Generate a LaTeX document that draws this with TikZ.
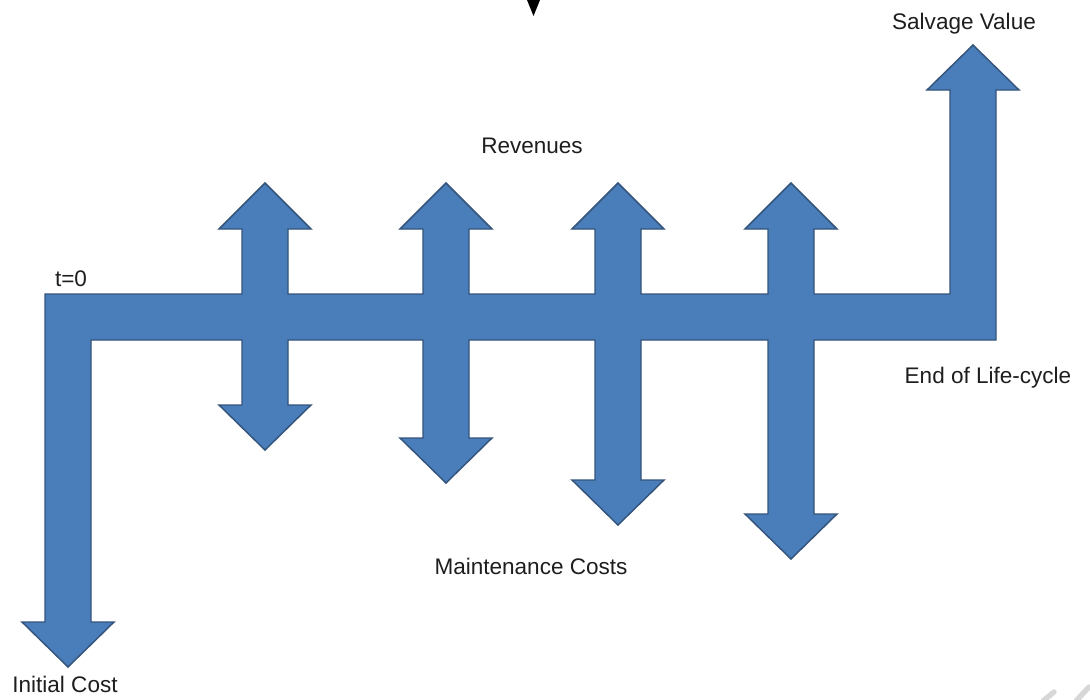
\documentclass[tikz,border=0pt]{standalone}
\usepackage{fontspec}
\setmainfont{Liberation Sans}
\begin{document}
\begin{tikzpicture}[x=0.75pt,y=-0.75pt,
  flowshape/.style={fill={rgb,255:red,74;green,126;blue,187},
    draw={rgb,255:red,52;green,84;blue,124},line width=1.1pt,line join=miter},
  lbl/.style={anchor=base,inner sep=0pt,text={rgb,255:red,30;green,30;blue,30},
    font=\fontsize{16.9}{20}\selectfont},
  faintstroke/.style={draw={rgb,255:red,215;green,215;blue,215},line width=4pt,line cap=round}]
% canvas
\fill[white] (0,0) rectangle (1090,700);
\useasboundingbox (0,0) rectangle (1090,700);

% cash-flow timeline: one outline for the bar and all arrows
\draw[flowshape] (45,294)
  \foreach \c in {265,446,618,791} {
    -- ({\c-23},294) -- ({\c-23},229) -- ({\c-46},229) -- (\c,183)
    -- ({\c+46},229) -- ({\c+23},229) -- ({\c+23},294) }
  -- (950,294) -- (950,90) -- (927,90) -- (973,45) -- (1019,90) -- (996,90)
  -- (996,340)
  \foreach \c/\t in {791/559,618/525,446/483,265/450} {
    -- ({\c+23},340) -- ({\c+23},{\t-45}) -- ({\c+46},{\t-45}) -- (\c,\t)
    -- ({\c-46},{\t-45}) -- ({\c-23},{\t-45}) -- ({\c-23},340) }
  -- (91,340) -- (91,622) -- (114,622) -- (68,667) -- (22,622) -- (45,622)
  -- cycle;

% small pointer at the top edge
\fill[black] (527,0) -- (540,0) -- (533.5,16) -- cycle;

% labels
\node[lbl] (t0) at (71,286) {t=0};
\node[lbl] (salvage) at (964,29) {Salvage Value};
\node[lbl] (revenues) at (532,153) {Revenues};
\node[lbl] (maint) at (531,574) {Maintenance Costs};
\node[lbl] (endlife) at (988,383) {End of Life-cycle};
\node[lbl] (initial) at (65,692) {Initial Cost};

% faint strokes in the lower right corner
\draw[faintstroke] (1043,701) -- (1054,692);
\draw[faintstroke] (1076,701) -- (1089,687);
\end{tikzpicture}
\end{document}
